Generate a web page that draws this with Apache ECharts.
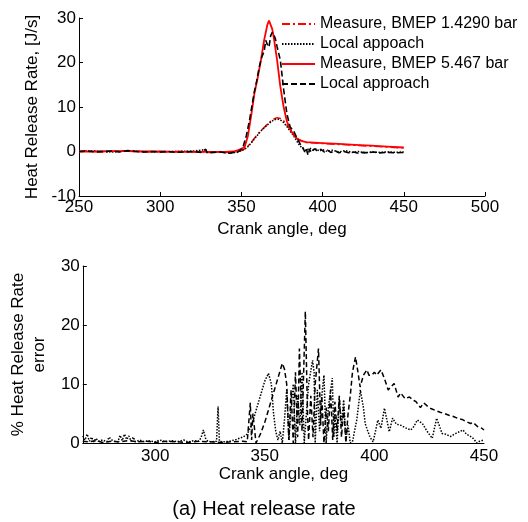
<!DOCTYPE html>
<html>
<head>
<meta charset="utf-8">
<title>Heat release rate</title>
<script src="https://cdn.jsdelivr.net/npm/echarts@6/dist/echarts.min.js"></script>
<style>
  html, body { margin: 0; padding: 0; background: #fff; }
  #chart { width: 528px; height: 522px; }
</style>
</head>
<body>
<div id="chart"></div>
<script>
// ---- top panel: heat release rate, J/s ----
var lowMeasAngle = [250,255,260,265,270,275,280,285,290,295,300,305,310,315,320,325,330,335,340,345,348,350,352,354,356,358,360,362,364,366,368,370,372,374,376,378,380,382,384,386,388,390,395,400,410,420,430,440,450];
var lowMeasHrr   = [0,0.1,0,-0.1,0,0.2,0.1,0,-0.1,0,0,-0.1,0,0.1,-0.1,0,-0.2,-0.1,-0.2,-0.1,0,0.2,0.6,1.2,2.0,3.0,3.9,4.7,5.4,6.1,6.8,7.3,7.6,7.4,6.9,6.0,5.0,3.9,3.0,2.6,2.2,2.0,1.9,1.8,1.6,1.4,1.2,1.0,0.8];

var lowLocalAngle = [250,260,270,280,290,300,310,320,328,329,335,340,345,348,350,352,354,356,358,360,362,364,366,368,370,372,374,376,378,380,382,384,386,388,390,392,394,396,398,400,403,406,410,414,418,422,426,430,435,440,445,450];
var lowLocalHrr   = [0,0.1,-0.1,0.1,0,-0.1,0,0.1,0.4,-0.1,-0.1,-0.2,-0.3,0,0.2,0.5,1.1,1.9,2.8,3.7,4.6,5.3,6.0,6.6,7.1,7.3,7.1,6.5,5.6,4.6,3.6,2.4,1.3,0.6,0.2,0.8,0.3,0.6,0.1,0.4,0,0.3,-0.1,0.2,-0.2,0,-0.3,-0.1,-0.2,-0.1,-0.2,-0.1];

var highMeasAngle = [250,260,270,280,290,300,310,320,330,340,345,348,350,352,354,356,358,360,362,364,366,367,368,369,370,372,374,376,378,380,382,384,386,388,390,395,400,410,420,430,440,450];
var highMeasHrr   = [0,0,0.1,0.1,0,0,-0.1,-0.1,-0.1,-0.1,0,0.3,0.6,1.0,3.5,8,13,16.5,20.5,25,28.5,29.4,29,27.5,25.5,20.5,14.5,10,6.8,5,3.8,3,2.5,2.3,2.1,2.0,1.9,1.7,1.5,1.3,1.1,0.9];

var highLocalAngle = [250,255,260,265,270,275,280,285,290,295,300,305,310,315,320,325,328,329,333,337,340,343,344,345,347,349,351,353,355,356,358,359.5,361,362.5,364,365,366,367,368,369,370,371,372,374,376,378,380,382,384,386,388,389,390,391,392,393,395,397,399,401,403,405,408,410,413,416,419,422,425,428,431,435,440,445,450];
var highLocalHrr   = [0,0.1,-0.1,0,0.1,-0.1,0.2,0,-0.1,0,-0.1,0,-0.2,-0.1,0,-0.2,0.5,-0.3,-0.2,-0.1,-0.3,-0.4,-0.8,-0.2,-0.3,0.2,1,3.5,7,9.2,13.5,16,19,21.2,22.5,25,24,23.5,26,26.8,26.3,25.2,23.5,20.5,14,8.5,5.5,4.7,3.2,1.8,0.8,-0.1,0.6,-0.8,0.5,-0.2,0.6,0.1,0.5,-0.1,0.3,-0.2,0.1,-0.3,0,-0.3,-0.1,-0.4,-0.2,-0.3,-0.1,-0.3,-0.2,-0.3,-0.2];

// ---- bottom panel: % error ----
var errLowAngle = [267,268,269,270,271,272,273,274,276,278,279,280,281,283,284,285,286,287,288,289,290,291,293,295,297,300,302,305,308,310,313,315,318,320,321,322,323,324,326,328,328.7,329.3,331,334,337,340,342,344,346,348,350,351.7,353,354,355,356,357,358,359,360,361,362,363,364,365,366,367,368,369,370,371.8,372.5,373,374,375,376,377,378,379,380.8,381.5,382,383,384,385,386,387,388,389,390,392,393.6,395,395.8,397,398,399.4,400.5,401.6,403,404.6,406.8,408.3,410,412.1,414,416.6,418,419.6,421.9,424,426.4,428.4,430.9,432.5,434.7,437,440.4,442,443.9,445,446.8,448,450];
var errLowPct   = [1.2,0.5,1.5,0.3,1.0,0.2,0.8,0.3,0.5,0.2,1.0,0.6,0.3,0.2,1.3,0.4,1.5,0.6,1.2,0.3,1.0,0.2,0.5,0.2,0.4,0.2,0.5,0.2,0.4,0.2,0.5,0.2,0.4,0.3,1.0,2.2,0.8,0.3,0.2,0.3,6.2,0.3,0.2,0.3,0.6,1.0,1.5,3,5.5,8,10.5,11.8,10,5,2,0.5,2,0,4,9,0.5,6,10,0,8,3,12,0,5,10,14,12,0,9,2,8,11.5,0,6,11,1,5,0,7.5,3,7.3,0.5,3,0,0.2,4,9,6,3.3,2,1,0.2,2,3.9,2.5,5.9,1.9,4.2,3.2,3,2.6,2.2,2.8,3.9,3.3,2.0,0.8,4.2,1.6,1.5,1.1,1.6,2.2,1.5,1.1,0.8,0,0.3,0.5];

var errHighAngle = [267,270,273,276,280,284,288,292,296,300,305,310,315,320,325,330,335,340,342,343.4,344,344.6,346,348,350,352,354,356,358,359,360,361,362,363,364,365,365.8,367,368.5,369.5,370,371,372,373,374.5,375.5,376,377,378,379,380,381,382,383,384,385,386,387,388,389,390,391.4,392.5,393.5,394.3,395,396.6,397.5,398.8,400,401,403,404.5,406.3,407.5,409,410.8,412,414,416,418,419,421,422.5,424.3,426,428,430,432,434,436,437.9,440,442,443.9,445,447,449,450];
var errHighPct   = [0.3,0.2,0.4,0.1,0.3,0.2,0.4,0.2,0.3,0.1,0.3,0.2,0.1,0.3,0.2,0.1,0.2,0.3,0.2,6.8,0.5,5,0,1.5,3.5,6,8.5,11,13.5,12.5,10,0.5,9,0,12,1,16,2,22.3,5,0.5,8,1,10,16,3,8,0,6,2,9,0.5,7,2,8,1,6,0,5,8,12,14.6,12,9.5,9.5,11.5,12.4,11.5,11.5,12,11.5,12.4,11,9,9.5,10.1,7.8,8.5,7.5,7.8,7.2,7,6,6.8,6.2,5.8,5.5,5.2,5,4.7,4.5,4.2,4.0,3.6,3.3,3.5,2.8,2.5,2.2];

var legendNames = ['Measure, BMEP 1.4290 bar', 'Local appoach', 'Measure, BMEP 5.467 bar', 'Local approach'];
var bottomTicks = [300, 350, 400, 450];

var FONT = 'Liberation Sans, Arial, sans-serif';

// zip angle/value arrays into [x, y] pairs
function pairs(xs, ys) {
    var out = [];
    for (var i = 0; i < xs.length; i++) {
        out.push([xs[i], ys[i]]);
    }
    return out;
}

function lineSeries(name, xs, ys, color, dash, width, axisIdx) {
    return {
        name: name,
        type: 'line',
        xAxisIndex: axisIdx,
        yAxisIndex: axisIdx,
        symbol: 'none',
        smooth: false,
        lineStyle: { color: color, width: width, type: dash },
        itemStyle: { color: color },
        data: pairs(xs, ys)
    };
}

var axisLine = { show: true, onZero: false, lineStyle: { color: '#000', width: 1 } };
var tickIn = { show: true, inside: true, length: 4, lineStyle: { color: '#000' } };
var nameTxt = { color: '#000', fontSize: 17, fontFamily: FONT };

var option = {
    animation: false,
    backgroundColor: '#fff',
    title: {
        text: '(a) Heat release rate',
        left: 'center',
        top: 494,
        textStyle: { color: '#000', fontSize: 20, fontWeight: 'normal', fontFamily: FONT }
    },
    legend: {
        data: legendNames,
        orient: 'vertical',
        left: 281,
        top: 16,
        padding: 0,
        itemWidth: 33,
        itemHeight: 14,
        itemGap: 4,
        // hide the circle that line series put in their legend icon, keep the line
        itemStyle: { opacity: 0 },
        textStyle: { color: '#000', fontSize: 16, fontFamily: FONT }
    },
    grid: [
        { left: 79, right: 43, top: 18, height: 178 },
        { left: 78, right: 44, top: 266, height: 177 }
    ],
    xAxis: [
        {
            type: 'value', gridIndex: 0, min: 250, max: 500, interval: 50,
            name: 'Crank angle, deg', nameLocation: 'middle', nameGap: 25, nameTextStyle: nameTxt,
            axisLine: axisLine, axisTick: tickIn, splitLine: { show: false },
            axisLabel: { color: '#000', fontSize: 17, fontFamily: FONT, margin: 3 }
        },
        {
            type: 'value', gridIndex: 1, min: 267, max: 450,
            name: 'Crank angle, deg', nameLocation: 'middle', nameGap: 23, nameTextStyle: nameTxt,
            axisLine: axisLine, axisTick: { show: false, customValues: bottomTicks }, splitLine: { show: false },
            axisLabel: { color: '#000', fontSize: 17, fontFamily: FONT, margin: 5, customValues: bottomTicks }
        }
    ],
    yAxis: [
        {
            type: 'value', gridIndex: 0, min: -10, max: 30, interval: 10,
            name: 'Heat Release Rate, [J/s]', nameLocation: 'middle', nameGap: 36, nameTextStyle: nameTxt,
            axisLine: axisLine, axisTick: tickIn, splitLine: { show: false },
            axisLabel: { color: '#000', fontSize: 17, fontFamily: FONT, margin: 3 }
        },
        {
            type: 'value', gridIndex: 1, min: 0, max: 30, interval: 10,
            name: '% Heat Release Rate\nerror', nameLocation: 'middle', nameGap: 25,
            nameTextStyle: { color: '#000', fontSize: 17, fontFamily: FONT, lineHeight: 21 },
            axisLine: axisLine, axisTick: tickIn, splitLine: { show: false },
            axisLabel: { color: '#000', fontSize: 17, fontFamily: FONT, margin: 3 }
        }
    ],
    series: [
        lineSeries(legendNames[0], lowMeasAngle, lowMeasHrr, '#ff0000', [8, 3, 2, 3], 1.5, 0),
        lineSeries(legendNames[1], lowLocalAngle, lowLocalHrr, '#000000', [1.5, 1.5], 1.5, 0),
        lineSeries(legendNames[2], highMeasAngle, highMeasHrr, '#ff0000', 'solid', 1.8, 0),
        lineSeries(legendNames[3], highLocalAngle, highLocalHrr, '#000000', [6, 3], 1.6, 0),
        lineSeries('err low', errLowAngle, errLowPct, '#000000', [1.5, 1.5], 1.5, 1),
        lineSeries('err high', errHighAngle, errHighPct, '#000000', [5, 3], 1.5, 1)
    ]
};

var chart = echarts.init(document.getElementById('chart'), null, { renderer: 'canvas' });
chart.setOption(option);
</script>
</body>
</html>
